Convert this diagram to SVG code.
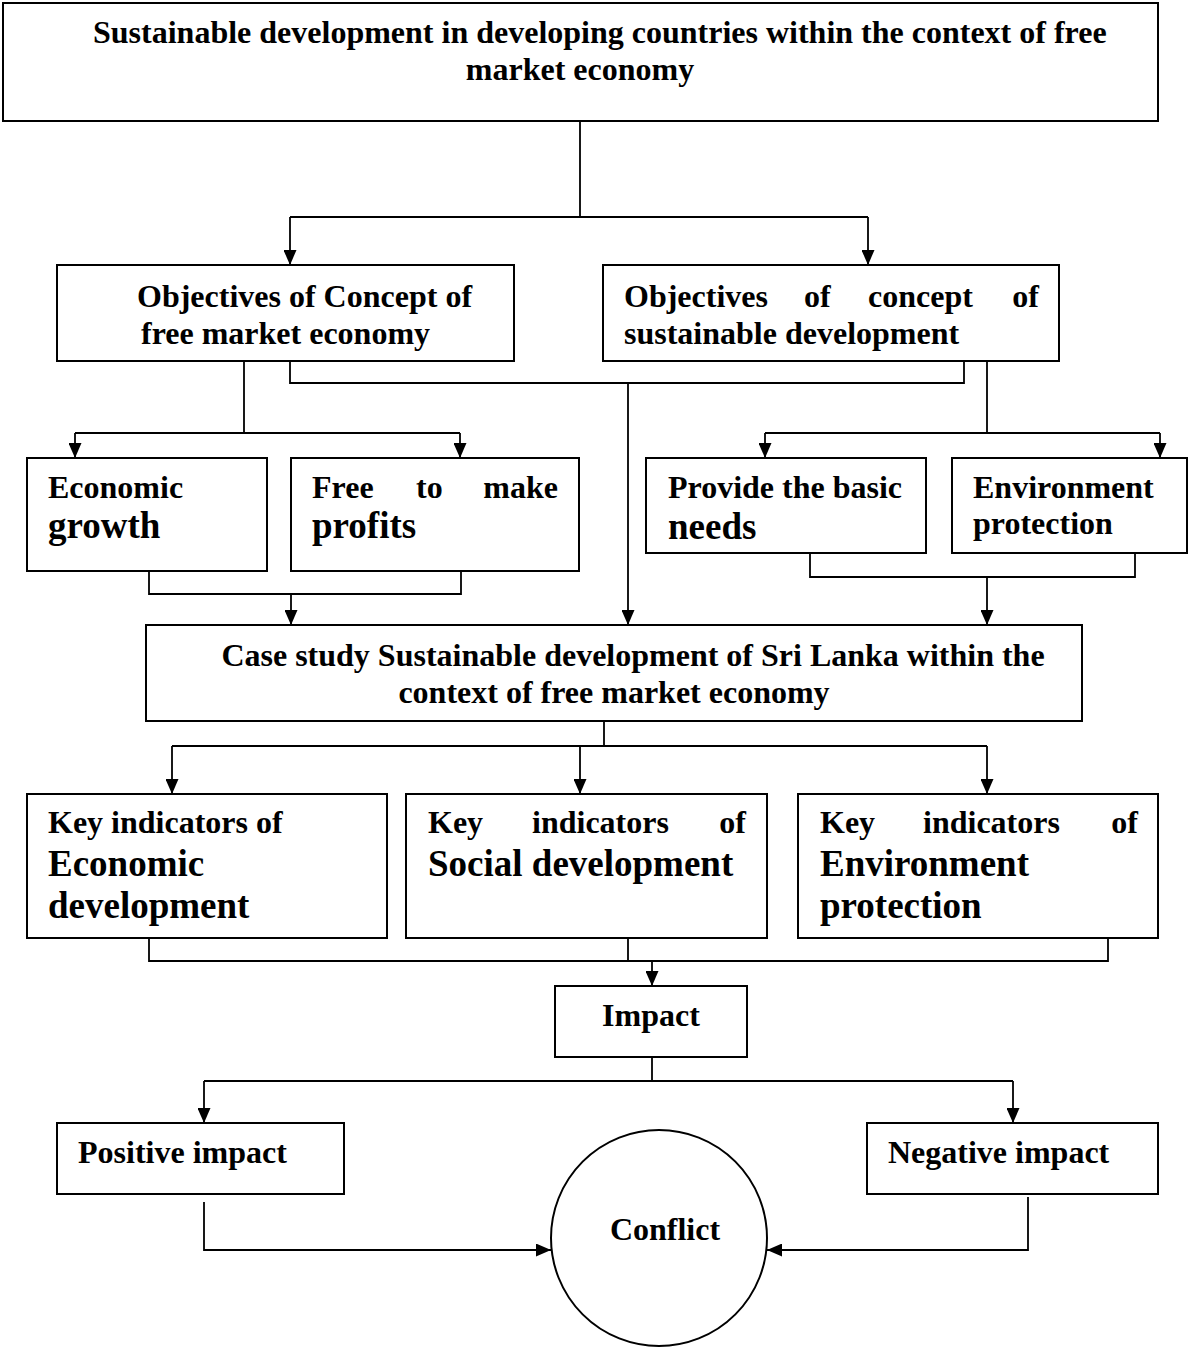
<svg xmlns="http://www.w3.org/2000/svg" width="1189" height="1347" viewBox="0 0 1189 1347">
  <style>
    .box { fill: #fff; stroke: #000; stroke-width: 2; }
    .ln { fill: none; stroke: #000; stroke-width: 1.8; }
    .t { font-family: "Liberation Serif", "Times New Roman", serif; font-weight: bold; font-size: 32px; fill: #000; }
    .big { font-size: 37px; }
    .mid { text-anchor: middle; }
    .end { text-anchor: end; }
  </style>
  <defs>
    <marker id="arrow" markerUnits="userSpaceOnUse" markerWidth="15" markerHeight="13" refX="15" refY="6.5" orient="auto">
      <path d="M0,0 L15,6.5 L0,13 z" fill="#000"/>
    </marker>
  </defs>

  <rect width="1189" height="1347" fill="#fff"/>

  <!-- connectors -->
  <g id="connectors">
    <path class="ln" d="M580,121 V217 M290,217 H868"/>
    <path class="ln" d="M290,217 V265" marker-end="url(#arrow)"/>
    <path class="ln" d="M868,217 V265" marker-end="url(#arrow)"/>

    <path class="ln" d="M244,361 V433 M75,433 H460"/>
    <path class="ln" d="M75,433 V458" marker-end="url(#arrow)"/>
    <path class="ln" d="M460,433 V458" marker-end="url(#arrow)"/>

    <path class="ln" d="M290,361 V383 H964 V361"/>
    <path class="ln" d="M628,383 V625" marker-end="url(#arrow)"/>

    <path class="ln" d="M987,361 V433 M765,433 H1160"/>
    <path class="ln" d="M765,433 V458" marker-end="url(#arrow)"/>
    <path class="ln" d="M1160,433 V458" marker-end="url(#arrow)"/>

    <path class="ln" d="M149,571 V594 H461 V571"/>
    <path class="ln" d="M291,594 V625" marker-end="url(#arrow)"/>
    <path class="ln" d="M810,553 V577 H1135 V553"/>
    <path class="ln" d="M987,577 V625" marker-end="url(#arrow)"/>

    <path class="ln" d="M604,721 V746 M172,746 H987"/>
    <path class="ln" d="M172,746 V794" marker-end="url(#arrow)"/>
    <path class="ln" d="M580,746 V794" marker-end="url(#arrow)"/>
    <path class="ln" d="M987,746 V794" marker-end="url(#arrow)"/>

    <path class="ln" d="M149,938 V961 H1108 V938 M628,938 V961"/>
    <path class="ln" d="M652,961 V986" marker-end="url(#arrow)"/>

    <path class="ln" d="M652,1057 V1081 M204,1081 H1013"/>
    <path class="ln" d="M204,1081 V1123" marker-end="url(#arrow)"/>
    <path class="ln" d="M1013,1081 V1123" marker-end="url(#arrow)"/>

    <path class="ln" d="M204,1202 V1250 H551" marker-end="url(#arrow)"/>
    <path class="ln" d="M1028,1197 V1250 H767" marker-end="url(#arrow)"/>
  </g>

  <!-- title -->
  <g id="n-title">
    <rect class="box" x="3" y="3" width="1155" height="118"/>
    <text class="t" x="93" y="43">Sustainable development in developing countries within the context of free</text>
    <text class="t mid" x="580" y="80">market economy</text>
  </g>

  <!-- objectives -->
  <g id="n-obj-market">
    <rect class="box" x="57" y="265" width="457" height="96"/>
    <text class="t" x="137" y="307">Objectives of Concept of</text>
    <text class="t" x="141" y="344">free market economy</text>
  </g>
  <g id="n-obj-sustain">
    <rect class="box" x="603" y="265" width="456" height="96"/>
    <text class="t" x="624" y="307">Objectives</text>
    <text class="t" x="804" y="307">of</text>
    <text class="t" x="868" y="307">concept</text>
    <text class="t end" x="1039" y="307">of</text>
    <text class="t" x="624" y="344">sustainable development</text>
  </g>

  <!-- second level -->
  <g id="n-growth">
    <rect class="box" x="27" y="458" width="240" height="113"/>
    <text class="t" x="48" y="498">Economic</text>
    <text class="t big" x="48" y="538">growth</text>
  </g>
  <g id="n-profits">
    <rect class="box" x="291" y="458" width="288" height="113"/>
    <text class="t" x="312" y="498">Free</text>
    <text class="t" x="416" y="498">to</text>
    <text class="t end" x="558" y="498">make</text>
    <text class="t big" x="312" y="538">profits</text>
  </g>
  <g id="n-needs">
    <rect class="box" x="646" y="458" width="280" height="95"/>
    <text class="t" x="668" y="498">Provide the basic</text>
    <text class="t big" x="668" y="539">needs</text>
  </g>
  <g id="n-env">
    <rect class="box" x="952" y="458" width="235" height="95"/>
    <text class="t" x="973" y="498">Environment</text>
    <text class="t" x="973" y="534">protection</text>
  </g>

  <!-- case study -->
  <g id="n-case">
    <rect class="box" x="146" y="625" width="936" height="96"/>
    <text class="t mid" x="633" y="666">Case study Sustainable development of Sri Lanka within the</text>
    <text class="t mid" x="614" y="703">context of free market economy</text>
  </g>

  <!-- key indicators -->
  <g id="n-key-econ">
    <rect class="box" x="27" y="794" width="360" height="144"/>
    <text class="t" x="48" y="833">Key indicators of</text>
    <text class="t big" x="48" y="876">Economic</text>
    <text class="t big" x="48" y="918">development</text>
  </g>
  <g id="n-key-social">
    <rect class="box" x="406" y="794" width="361" height="144"/>
    <text class="t" x="428" y="833">Key</text>
    <text class="t" x="532" y="833">indicators</text>
    <text class="t end" x="746" y="833">of</text>
    <text class="t big" x="428" y="876">Social development</text>
  </g>
  <g id="n-key-env">
    <rect class="box" x="798" y="794" width="360" height="144"/>
    <text class="t" x="820" y="833">Key</text>
    <text class="t" x="923" y="833">indicators</text>
    <text class="t end" x="1138" y="833">of</text>
    <text class="t big" x="820" y="876">Environment</text>
    <text class="t big" x="820" y="918">protection</text>
  </g>

  <!-- impact -->
  <g id="n-impact">
    <rect class="box" x="555" y="986" width="192" height="71"/>
    <text class="t mid" x="651" y="1026">Impact</text>
  </g>
  <g id="n-positive">
    <rect class="box" x="57" y="1123" width="287" height="71"/>
    <text class="t" x="78" y="1163">Positive impact</text>
  </g>
  <g id="n-negative">
    <rect class="box" x="867" y="1123" width="291" height="71"/>
    <text class="t" x="888" y="1163">Negative impact</text>
  </g>
  <g id="n-conflict">
    <circle class="box" cx="659" cy="1238" r="108"/>
    <text class="t mid" x="665" y="1240">Conflict</text>
  </g>
</svg>
